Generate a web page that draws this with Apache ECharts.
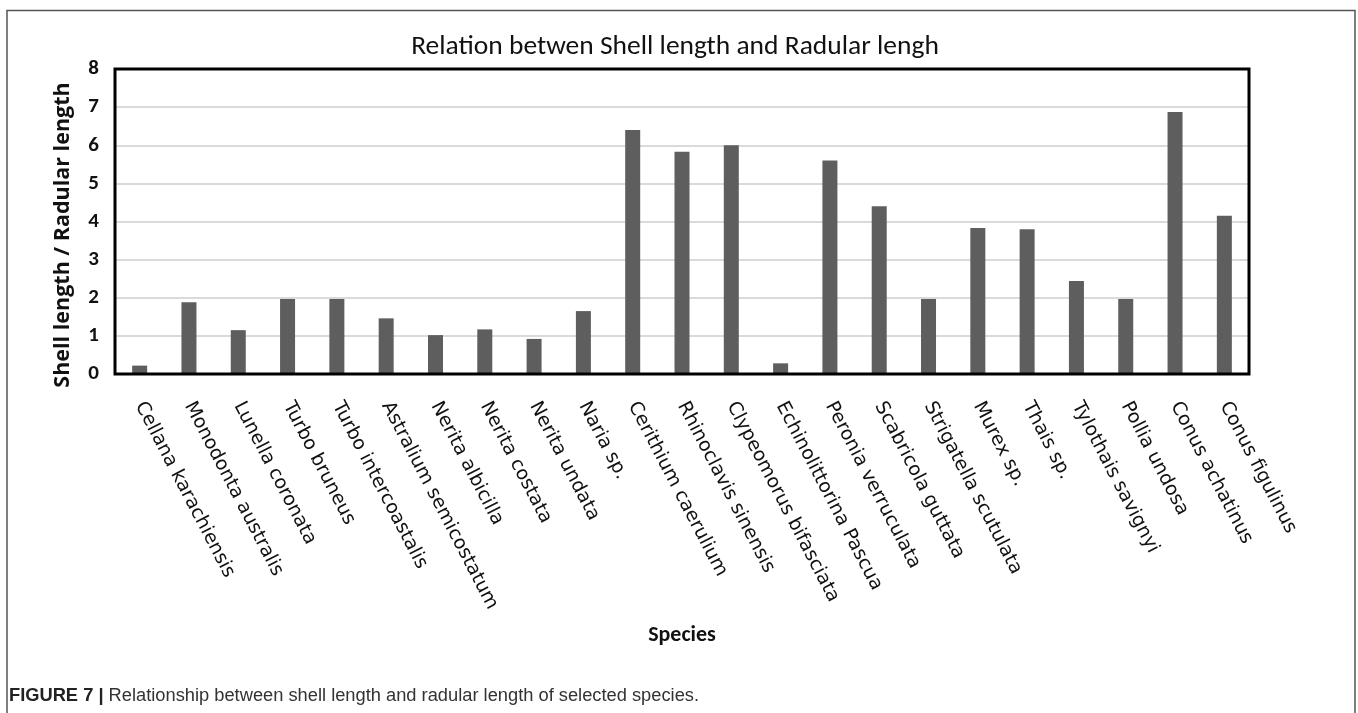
<!DOCTYPE html>
<html>
<head>
<meta charset="utf-8">
<script src="https://cdn.jsdelivr.net/npm/echarts@6/dist/echarts.min.js"></script>
<style>
html,body{margin:0;padding:0;background:#fff;}
#chart{width:1358px;height:713px;}
</style>
</head>
<body>
<div id="chart"></div>
<script>
const species = [
  'Cellana karachiensis','Monodonta australis','Lunella coronata','Turbo bruneus',
  'Turbo intercoastalis','Astralium semicostatum','Nerita albicilla','Nerita costata',
  'Nerita undata','Naria sp.','Cerithium caerulium','Rhinoclavis sinensis',
  'Clypeomorus bifasciata','Echinolittorina Pascua','Peronia verruculata','Scabricola guttata',
  'Strigatella scutulata','Murex sp.','Thais sp.','Tylothais savignyi',
  'Pollia undosa','Conus achatinus','Conus figulinus'
];
const ratio = [
  0.22, 1.88, 1.15, 1.97,
  1.97, 1.46, 1.02, 1.17,
  0.92, 1.65, 6.40, 5.83,
  6.00, 0.28, 5.60, 4.40,
  1.97, 3.83, 3.80, 2.44,
  1.97, 6.87, 4.15
];
const yTicks = [0,1,2,3,4,5,6,7,8];

const chart = echarts.init(document.getElementById('chart'), null, {renderer:'canvas'});
const calibri = 'Carlito, Calibri, "Liberation Sans Narrow", "Open Sans", sans-serif';
chart.setOption({
  animation:false,
  backgroundColor:'#fff',
  title:{
    text:'Relation betwen Shell length and Radular lengh',
    left:670, textAlign:'center', top:28,
    textStyle:{fontFamily:calibri, fontSize:27.5, fontWeight:'normal', color:'#111'}
  },
  grid:{left:115, right:109, top:69, bottom:339, show:false},
  xAxis:{
    type:'category', data:species,
    axisLine:{show:true, lineStyle:{color:'#222', width:2}},
    axisTick:{show:false},
    axisLabel:{interval:0, rotate:-62.5, fontFamily:'"DejaVu Sans", sans-serif', fontSize:19, color:'#111', margin:29},
    name:'Species', nameLocation:'middle', nameGap:250,
    nameTextStyle:{fontFamily:calibri, fontSize:22, fontWeight:'bold', color:'#111'}
  },
  yAxis:{
    type:'value', min:0, max:8, interval:1,
    axisLine:{show:false},
    axisTick:{show:false},
    axisLabel:{fontFamily:calibri, fontSize:21, fontWeight:'bold', color:'#111', margin:16,
      formatter:function(v){return yTicks.indexOf(v)>=0 ? String(v) : '';}},
    splitLine:{show:true, lineStyle:{color:'#dadada', width:2}}
  },
  series:[{
    type:'bar', data:ratio, barWidth:15,
    itemStyle:{color:'#5e5e5e'}
  }],
  graphic:[
    {type:'rect', shape:{x:7, y:10.5, width:1348, height:720}, style:{fill:'none', stroke:'#555', lineWidth:1.5}, silent:true},
    {type:'rect', z:100, shape:{x:115, y:69, width:1134, height:305}, style:{fill:'none', stroke:'#000', lineWidth:3}, silent:true},
    {type:'text', x:63, y:235, rotation:Math.PI/2, style:{
      text:'Shell length / Radular length', align:'center', verticalAlign:'middle',
      fontFamily:'"Open Sans", sans-serif', fontSize:21.5, fontWeight:'bold', fill:'#111'
    }},
    {type:'text', left:9, top:687, style:{
      text:'{b|FIGURE 7 |} Relationship between shell length and radular length of selected species.',
      rich:{b:{fontFamily:'"Liberation Sans", Arial, sans-serif', fontSize:18.3, fontWeight:'bold', fill:'#222'}},
      fontFamily:'"Liberation Sans", Arial, sans-serif', fontSize:18.3, fill:'#333'
    }}
  ]
});
</script>
</body>
</html>
